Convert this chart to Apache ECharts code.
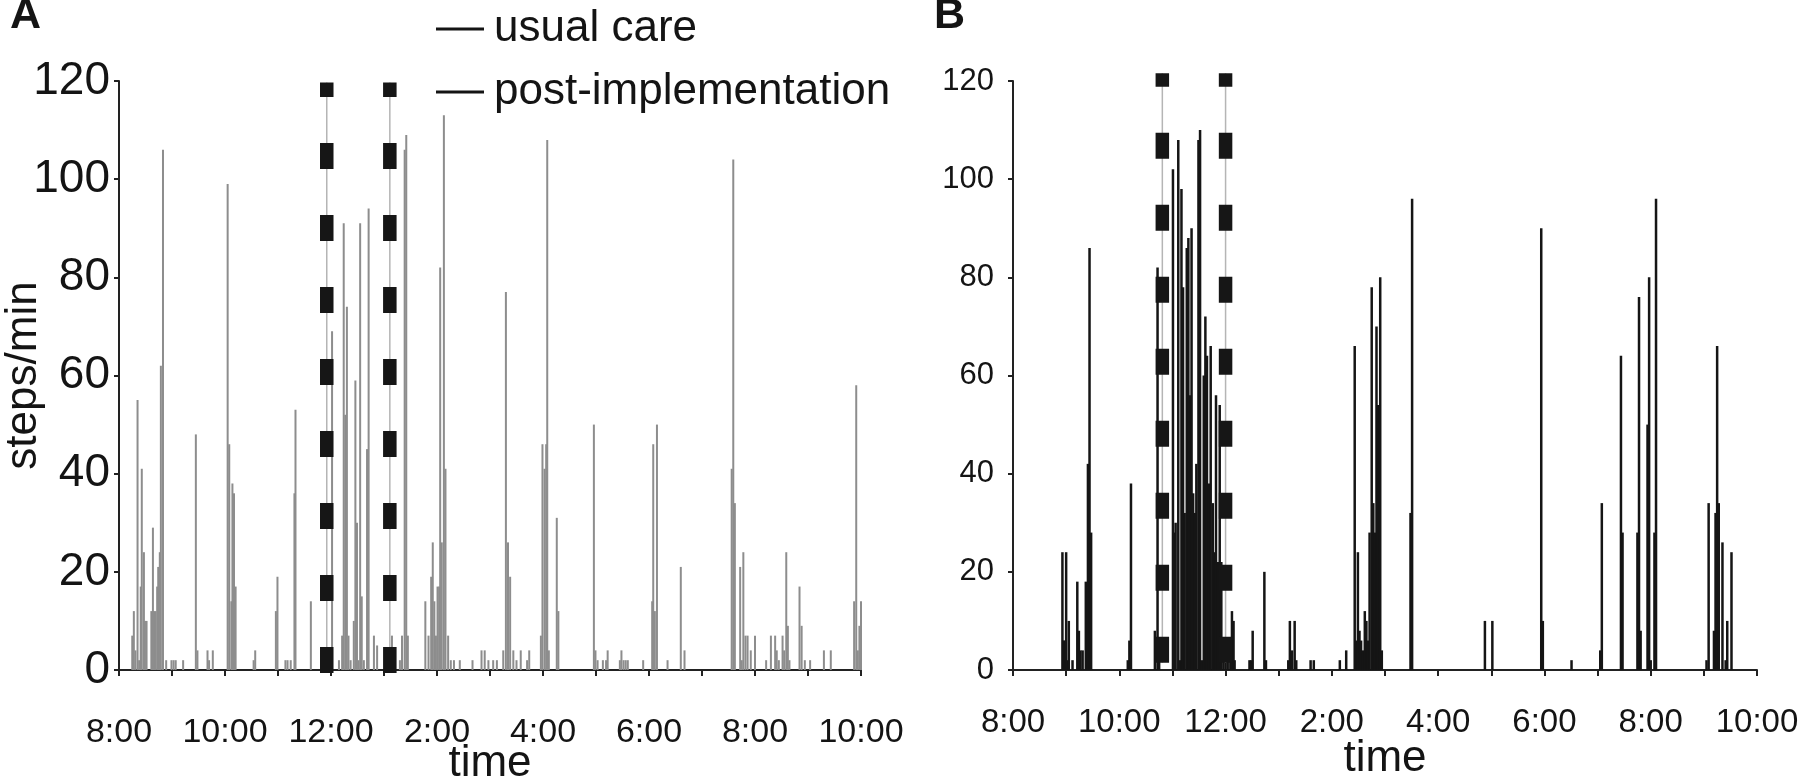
<!DOCTYPE html>
<html><head><meta charset="utf-8">
<script src="https://cdn.jsdelivr.net/npm/echarts@6/dist/echarts.min.js"></script>
<style>html,body{margin:0;padding:0;background:#fff}#c{width:1800px;height:784px}</style>
</head><body><div id="c"></div>
<script>
// x tick labels (every 2 hours, 8 am .. 10 pm)
const xTickHours = [8, 10, 12, 14, 16, 18, 20, 22];
const xTickLabels = ['8:00', '10:00', '12:00', '2:00', '4:00', '6:00', '8:00', '10:00'];
const yTicks = [0, 20, 40, 60, 80, 100, 120];

// Panel A: usual care (time of day in hours, steps/min)
const timesA = [8.25, 8.28, 8.31, 8.35, 8.38, 8.41, 8.43, 8.47, 8.49, 8.52, 8.61, 8.64, 8.66, 8.69, 8.72, 8.74, 8.77, 8.79, 8.83, 8.89, 8.99, 9.03, 9.07, 9.21, 9.45, 9.48, 9.67, 9.70, 9.77, 10.05, 10.08, 10.12, 10.14, 10.17, 10.20, 10.54, 10.57, 10.96, 10.99, 11.14, 11.18, 11.24, 11.31, 11.33, 11.62,
  12.02, 12.15, 12.21, 12.24, 12.27, 12.30, 12.33, 12.37, 12.43, 12.46, 12.49, 12.52, 12.55, 12.58, 12.62, 12.68, 12.71, 12.81, 12.87, 13.15, 13.30, 13.34, 13.39, 13.42, 13.45,
  13.78, 13.84, 13.89, 13.92, 13.95, 13.98, 14.01, 14.04, 14.06, 14.09, 14.13, 14.16, 14.21,
  14.26, 14.32, 14.43, 14.67, 14.84, 14.90, 14.97, 15.06, 15.13, 15.25, 15.30, 15.34, 15.38, 15.44, 15.50, 15.58, 15.70, 15.74, 15.96, 15.99, 16.03, 16.06, 16.08, 16.11, 16.26, 16.29, 16.96, 16.99, 17.03, 17.13, 17.19, 17.22, 17.45, 17.48, 17.52, 17.56, 17.60, 17.89, 18.06, 18.08, 18.11, 18.15, 18.35, 18.60, 18.67, 19.56, 19.59, 19.62, 19.72, 19.75, 19.78, 19.82, 19.86, 19.92, 20.00, 20.21, 20.30, 20.38, 20.41, 20.45, 20.52, 20.55, 20.59, 20.62, 20.65, 20.84, 20.88, 20.94, 21.04, 21.30, 21.43, 21.87, 21.91, 21.94, 21.97, 22.00];
const stepsA = [7, 12, 4, 55, 2, 17, 41, 24, 10, 10, 12, 29, 12, 12, 17, 21, 24, 62, 106, 2, 2, 2, 2, 2, 48, 4, 4, 2, 4, 99, 46, 14, 38, 36, 17, 2, 4, 12, 19, 2, 2, 2, 36, 53, 14,
  69, 2, 7, 91, 52, 74, 7, 2, 10, 59, 30, 2, 91, 15, 2, 45, 94, 7, 5, 7, 2, 7, 106, 109, 7,
  14, 7, 19, 26, 14, 7, 17, 17, 82, 26, 113, 41, 7,
  2, 2, 2, 2, 4, 4, 2, 2, 2, 4, 77, 26, 19, 4, 2, 4, 2, 4, 7, 46, 41, 46, 108, 4, 31, 12, 50, 4, 2, 2, 2, 4, 2, 4, 2, 2, 2, 2, 14, 46, 12, 50, 2, 21, 4, 41, 104, 34, 21, 2, 24, 7, 7, 4, 7, 2, 7, 7, 4, 2, 7, 4, 24, 9, 2, 17, 9, 2, 2, 4, 4, 14, 58, 4, 9, 14];

// Panel B: post-implementation
const timesB = [8.93, 8.95, 8.97, 9.00, 9.02, 9.05, 9.12, 9.21, 9.24, 9.27, 9.31, 9.37, 9.41, 9.44, 9.47, 10.16, 10.19, 10.22, 10.67, 10.72, 10.75,
  11.01, 11.03, 11.06, 11.11, 11.14, 11.17, 11.20, 11.23, 11.27, 11.30, 11.33, 11.36, 11.39, 11.42, 11.45, 11.49, 11.52, 11.56, 11.59, 11.62, 11.65, 11.69, 11.72, 11.76, 11.79, 11.82, 11.86, 11.89, 11.92, 11.96, 12.00, 12.04, 12.09, 12.12, 12.15, 12.17, 12.45, 12.48, 12.51, 12.73, 12.76, 13.18, 13.21, 13.25, 13.30, 13.33, 13.60, 13.66, 14.15, 14.27,
  14.43, 14.46, 14.49, 14.52, 14.55, 14.59, 14.62, 14.65, 14.68, 14.71, 14.75, 14.78, 14.81, 14.84, 14.87, 14.91, 14.94,
  15.48, 15.51, 16.88, 17.02, 17.94, 17.97, 18.51, 19.05, 19.08, 19.44, 19.47, 19.75, 19.78, 19.81, 19.94, 19.97, 20.00, 20.07, 20.10, 21.05, 21.09, 21.19, 21.22, 21.25, 21.28, 21.35, 21.41, 21.44, 21.52];
const stepsB = [24, 6, 6, 24, 2, 10, 2, 18, 8, 4, 4, 18, 42, 86, 28, 2, 6, 38, 8, 82, 2,
  102, 28, 30, 108, 2, 98, 78, 32, 86, 88, 56, 90, 36, 32, 42, 108, 110, 2, 60, 72, 64, 38, 66, 34, 24, 56, 22, 54, 22, 4, 4, 4, 6, 12, 10, 2, 2, 2, 8, 20, 2, 2, 10, 4, 10, 2, 2, 2, 2, 4,
  66, 6, 24, 8, 6, 4, 12, 10, 6, 28, 78, 34, 28, 70, 54, 80, 4,
  32, 96, 10, 10, 90, 10, 2, 4, 34, 64, 28, 28, 76, 8, 50, 80, 2, 28, 96, 2, 34, 8, 32, 66, 34, 26, 2, 10, 24];

// dashed marker lines (time, and vertical extent in steps/min)
const dashTimesA = [11.92, 13.11];
const dashRangeA = [-0.6, 119.7];
const dashTimesB = [10.81, 12.0];
const dashRangeB = [1.5, 121.6];

const FONT = '"Liberation Sans", Arial, Helvetica, sans-serif';
const INK = '#141414';

function xLabel(v) {
  const i = xTickHours.indexOf(v);
  return i >= 0 ? xTickLabels[i] : '';
}

function makeX(gridIndex, labelSize, margin, nameGap) {
  return {
    type: 'value', gridIndex, min: 8, max: 22, interval: 1,
    name: 'time', nameLocation: 'middle', nameGap, nameMoveOverlap: false,
    nameTextStyle: { fontSize: 44, color: INK, fontFamily: FONT },
    axisLine: { lineStyle: { color: '#222', width: 2 } },
    axisTick: { length: 6, lineStyle: { color: '#222', width: 2 } },
    axisLabel: { formatter: xLabel, fontSize: labelSize, color: INK, fontFamily: FONT, margin },
    splitLine: { show: false }
  };
}
function makeY(gridIndex, labelSize, margin, name, nameGap) {
  return {
    type: 'value', gridIndex, min: yTicks[0], max: yTicks[yTicks.length - 1], interval: 20,
    name, nameLocation: 'middle', nameGap, nameMoveOverlap: false,
    nameTextStyle: { fontSize: 44, color: INK, fontFamily: FONT },
    axisLine: { show: true, lineStyle: { color: '#222', width: 2 } },
    axisTick: { show: true, length: 5, lineStyle: { color: '#222', width: 2 } },
    axisLabel: { fontSize: labelSize, color: INK, fontFamily: FONT, margin },
    splitLine: { show: false }
  };
}

const series = [
  {
    name: 'usual care', type: 'bar', xAxisIndex: 0, yAxisIndex: 0, barWidth: 2,
    itemStyle: { color: '#8d8d8d' },
    data: timesA.map((t, i) => [t, stepsA[i]])
  },
  {
    name: 'post-implementation', type: 'bar', xAxisIndex: 1, yAxisIndex: 1, barWidth: 2.5,
    itemStyle: { color: '#151515' },
    data: timesB.map((t, i) => [t, stepsB[i]])
  }
];
function addDash(times, range, axisIdx) {
  times.forEach((t, k) => {
    series.push({
      name: 'guide' + axisIdx + k, type: 'line', xAxisIndex: axisIdx, yAxisIndex: axisIdx,
      showSymbol: false, symbol: 'none', clip: false, silent: true, z: 3,
      lineStyle: { color: '#b5b5b5', width: 1.5 },
      data: [[t, range[0]], [t, range[1]]]
    });
    series.push({
      name: 'dash' + axisIdx + k, type: 'line', xAxisIndex: axisIdx, yAxisIndex: axisIdx,
      showSymbol: false, symbol: 'none', clip: false, silent: true, z: 4,
      lineStyle: { color: '#161616', width: 13.5, type: [26, 46], cap: 'butt' },
      data: [[t, range[0]], [t, range[1]]]
    });
  });
}
addDash(dashTimesA, dashRangeA, 0);
addDash(dashTimesB, dashRangeB, 1);

const chart = echarts.init(document.getElementById('c'), null, { renderer: 'canvas' });
chart.setOption({
  animation: false,
  backgroundColor: '#fff',
  textStyle: { fontFamily: FONT },
  title: [
    { text: 'A', left: 10, top: -5, padding: 0, textStyle: { fontSize: 43, fontWeight: 'bold', color: INK, fontFamily: FONT } },
    { text: 'B', left: 934, top: -5, padding: 0, textStyle: { fontSize: 43, fontWeight: 'bold', color: INK, fontFamily: FONT } }
  ],
  legend: {
    orient: 'vertical', left: 436, top: 7, padding: 0,
    itemWidth: 48, itemHeight: 3, itemGap: 19, icon: 'rect', selectedMode: false,
    textStyle: { fontSize: 44, lineHeight: 44, color: INK, fontFamily: FONT, padding: [0, 0, 0, 5] },
    data: [
      { name: 'usual care', itemStyle: { color: INK } },
      { name: 'post-implementation', itemStyle: { color: INK } }
    ]
  },
  grid: [
    { left: 119, top: 81, width: 742, height: 589, containLabel: false, outerBoundsMode: 'none' },
    { left: 1013, top: 81, width: 744, height: 589, containLabel: false, outerBoundsMode: 'none' }
  ],
  xAxis: [makeX(0, 34, 46, 72), makeX(1, 33, 36, 67)],
  yAxis: [makeY(0, 46, 9, 'steps/min', 73), makeY(1, 31, 19, '', 70)],
  series
});
</script></body></html>
